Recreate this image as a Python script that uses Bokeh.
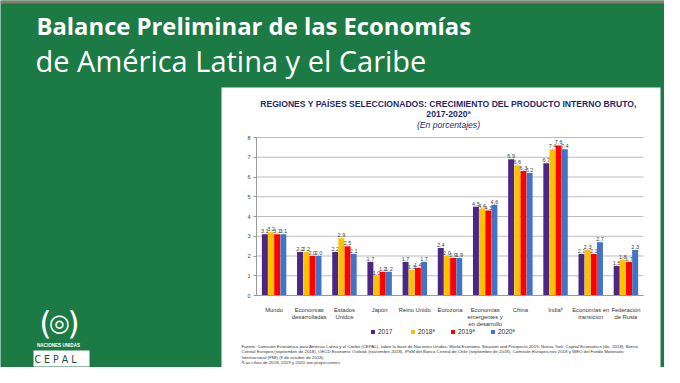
from bokeh.plotting import figure
from bokeh.models import (ColumnDataSource, Range1d, FixedTicker, LinearAxis,
                          Legend, LegendItem, Label, BoxAnnotation)
from bokeh.transform import dodge
from bokeh.embed import file_html
from bokeh.resources import INLINE
from bokeh.core.properties import value

# ---------------- data ----------------
categories = ["Mundo", "Economías\ndesarrolladas", "Estados\nUnidos", "Japón",
              "Reino Unido", "Eurozona", "Economías\nemergentes y\nen desarrollo",
              "China", "Indiaᵇ", "Economías en\ntransición", "Federación\nde Rusia"]
years = ["2017", "2018ª", "2019ª", "2020ª"]
v2017 = [3.1, 2.2, 2.2, 1.7, 1.7, 2.4, 4.5, 6.9, 6.7, 2.1, 1.5]
v2018 = [3.2, 2.2, 2.9, 1.0, 1.3, 2.0, 4.4, 6.6, 7.4, 2.3, 1.8]
v2019 = [3.1, 2.0, 2.5, 1.2, 1.4, 1.9, 4.3, 6.3, 7.6, 2.1, 1.7]
v2020 = [3.1, 2.0, 2.1, 1.2, 1.7, 1.9, 4.6, 6.2, 7.4, 2.7, 2.3]
y_ticks = [0, 1, 2, 3, 4, 5, 6, 7, 8]

series = [v2017, v2018, v2019, v2020]
colors = ["#4b2683", "#ffc000", "#ff0000", "#4472c4"]
GREEN = "#1c7a45"
NAVY = "#1f2a6e"
FONT = "Liberation Sans"

# ---------------- layout (canvas pixels, from top-left) ----------------
W, H = 664, 367
FR_L, FR_R, FR_T, FR_B = 256, 643, 137, 295   # chart plot area
n = len(categories)
y_max = y_ticks[-1]
px_per_x = (FR_R - FR_L) / n
px_per_y = (FR_B - FR_T) / y_max
x_lo = (0 - FR_L) / px_per_x - 0.5
x_hi = (W - FR_L) / px_per_x - 0.5
y_lo = -(H - FR_B) / px_per_y
y_hi = y_max + FR_T / px_per_y


def sx(px):
    return px


def sy(py):
    return H - py


pos = list(range(n))
data = {"pos": pos, "cat": categories}
for y, s in zip(years, series):
    data[y] = s
    data[y + "_lbl"] = [f"{v:.1f}".replace(".", ",") for v in s]
src = ColumnDataSource(data)

p = figure(width=W, height=H, x_range=Range1d(x_lo, x_hi), y_range=Range1d(y_lo, y_hi),
           output_backend="svg", toolbar_location=None, min_border=0,
           x_axis_type=None, y_axis_type=None,
           background_fill_color=GREEN, border_fill_color=GREEN,
           outline_line_color=None)
p.grid.visible = False


def box(l, r, t, b, color, level="underlay"):
    p.add_layout(BoxAnnotation(left=sx(l), right=sx(r), top=sy(t), bottom=sy(b),
                               left_units="screen", right_units="screen",
                               top_units="screen", bottom_units="screen",
                               fill_color=color, fill_alpha=1, line_color=None,
                               level=level))


# top stripe and white panel behind the chart
box(0, W, 0, 3, "#8e7b6c")
box(221, 660, 87, H, "white")

# horizontal gridlines
p.segment(x0=[-0.5] * len(y_ticks), x1=[n - 0.5] * len(y_ticks), y0=y_ticks, y1=y_ticks,
          line_color="#bdbdbd", line_width=1)

bw = 0.175
offsets = [-1.5 * bw, -0.5 * bw, 0.5 * bw, 1.5 * bw]
items = []
for y, off, c in zip(years, offsets, colors):
    r = p.vbar(x=dodge("pos", off), top=y, width=bw * 0.97,
               source=src, fill_color=c, line_color=None)
    p.text(x=dodge("pos", off), y=y, text=y + "_lbl", source=src,
           text_align="center", text_baseline="bottom", y_offset=-1,
           text_font=value(FONT), text_font_size="5.5px", text_color="#404040")
    items.append(LegendItem(label=y, renderers=[r]))

yaxis = LinearAxis(fixed_location=-0.5, ticker=FixedTicker(ticks=y_ticks),
                   bounds=(0, y_max))
yaxis.major_label_text_font = FONT
yaxis.major_label_text_font_size = "5.5px"
yaxis.major_label_text_color = "#404040"
yaxis.axis_line_color = "#999999"
yaxis.major_tick_line_color = "#999999"
yaxis.major_tick_out = 3
yaxis.major_tick_in = 0
yaxis.minor_tick_line_color = None
yaxis.major_label_standoff = 3
p.add_layout(yaxis, "left")

xaxis = LinearAxis(fixed_location=0, ticker=FixedTicker(ticks=pos),
                   major_label_overrides=dict(zip(pos, categories)),
                   bounds=(-0.5, n - 0.5))
xaxis.major_label_text_font = FONT
xaxis.major_label_text_font_size = "5.8px"
xaxis.major_label_text_color = "#333333"
xaxis.axis_line_color = "#999999"
xaxis.major_tick_line_color = None
xaxis.minor_tick_line_color = None
xaxis.major_label_standoff = 5
p.add_layout(xaxis, "below")

legend = Legend(items=items, orientation="horizontal",
                location=(sx(370), sy(335)),
                glyph_width=5, glyph_height=5, label_standoff=3, spacing=12,
                padding=2, margin=0, border_line_color=None,
                background_fill_alpha=0,
                label_text_font=FONT, label_text_font_size="6.5px",
                label_text_color="#333333", label_height=6)
p.add_layout(legend)

# slide header
p.add_layout(Label(x=sx(36), y=sy(25), x_units="screen", y_units="screen",
                   text="Balance Preliminar de las Economías", text_baseline="alphabetic",
                   text_font="Open Sans", text_font_style="bold",
                   text_font_size="23.8px", text_color="white"))
p.add_layout(Label(x=sx(35), y=sy(60), x_units="screen", y_units="screen",
                   text="de América Latina y el Caribe", text_baseline="alphabetic",
                   text_font="Open Sans", text_font_size="29px", text_color="white"))

# logo
p.add_layout(Label(x=sx(59), y=sy(322), x_units="screen", y_units="screen",
                   text="◎", text_align="center", text_baseline="middle",
                   text_font="DejaVu Sans", text_font_size="24px", text_color="white"))
p.add_layout(Label(x=sx(45), y=sy(322), x_units="screen", y_units="screen",
                   text="(", text_align="center", text_baseline="middle",
                   text_font="DejaVu Sans", text_font_size="32px", text_color="white"))
p.add_layout(Label(x=sx(73), y=sy(322), x_units="screen", y_units="screen",
                   text=")", text_align="center", text_baseline="middle",
                   text_font="DejaVu Sans", text_font_size="32px", text_color="white"))
p.add_layout(Label(x=sx(58), y=sy(347), x_units="screen", y_units="screen",
                   text="NACIONES UNIDAS", text_align="center",
                   text_font=FONT, text_font_style="bold",
                   text_font_size="4.6px", text_color="white"))
box(33, 89, 350, 366, "white")
p.add_layout(Label(x=sx(61), y=sy(358), x_units="screen", y_units="screen",
                   text="C  E  P  A  L", text_align="center", text_baseline="middle",
                   text_font="DejaVu Sans Condensed", text_font_size="10.5px",
                   text_color="#1d4f3a"))

# chart titles
p.add_layout(Label(x=sx(448), y=sy(108.5), x_units="screen", y_units="screen",
                   text="REGIONES Y PAÍSES SELECCIONADOS: CRECIMIENTO DEL PRODUCTO INTERNO BRUTO,",
                   text_align="center", text_font=FONT, text_font_style="bold",
                   text_font_size="8.6px", text_color=NAVY))
p.add_layout(Label(x=sx(448), y=sy(118.5), x_units="screen", y_units="screen",
                   text="2017-2020ª", text_align="center", text_font=FONT,
                   text_font_style="bold", text_font_size="8.6px", text_color=NAVY))
p.add_layout(Label(x=sx(448), y=sy(129.5), x_units="screen", y_units="screen",
                   text="(En porcentajes)", text_align="center", text_font=FONT,
                   text_font_style="italic", text_font_size="8.6px", text_color=NAVY))

footnote = ("Fuente: Comisión Económica para América Latina y el Caribe (CEPAL), sobre la base de Naciones Unidas, "
            "World Economic Situation and Prospects,2019, Nueva York; Capital Economics (dic. 2018); Banco\n"
            "Central Europeo (septiembre de 2018), OECD Economic  Outlook (noviembre 2018), IPoM del Banco Central "
            "de Chile (septiembre de 2018), Comisión Europea nov 2018 y WEO del Fondo Monetario\n"
            "Internacional (FMI) (9 de octubre de 2018).\n"
            "ªLas cifras de 2018, 2019 y 2020 son proyecciones.")
p.add_layout(Label(x=sx(241), y=sy(343), x_units="screen", y_units="screen",
                   text=footnote, text_baseline="top", text_font=FONT,
                   text_font_size="4.35px", text_line_height=1.12,
                   text_color="#333333"))

open("out.html", "w").write(file_html(p, INLINE))
